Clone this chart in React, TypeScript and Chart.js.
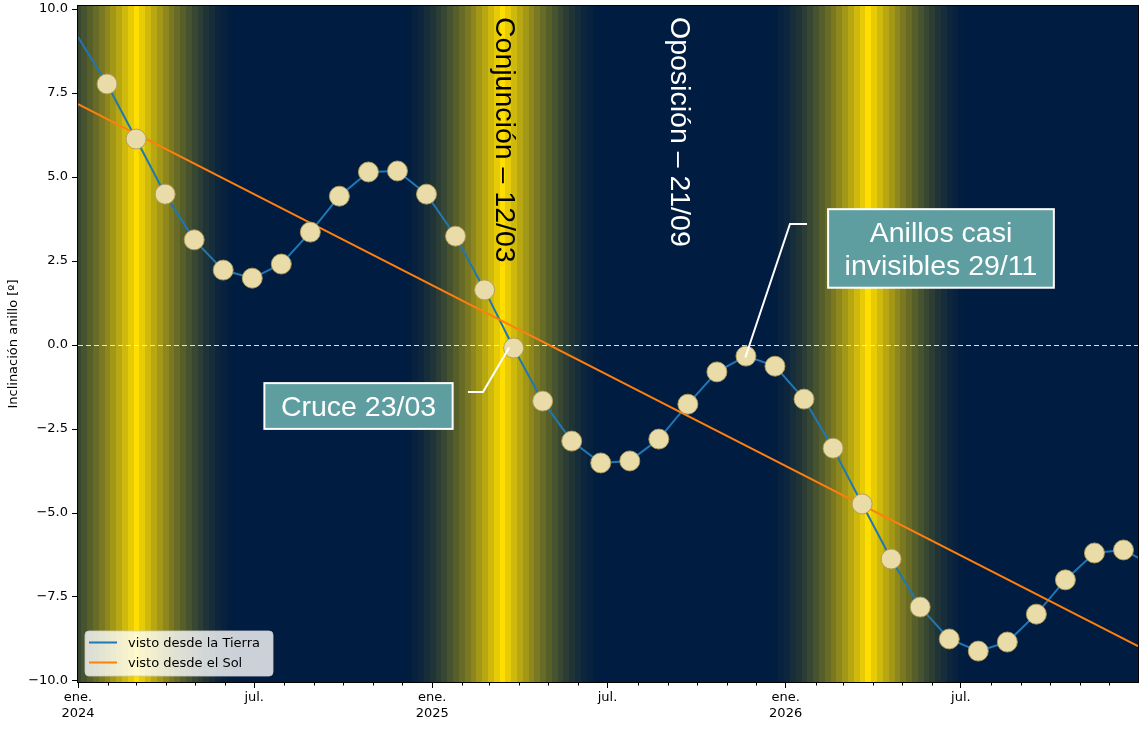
import React, { useEffect, useRef } from "react";
import { Chart, registerables } from "chart.js";

Chart.register(...registerables);

// ---------------- data ----------------
const earthDays = [0, 30, 60, 90, 120, 150, 180, 210, 240, 270, 300, 330, 360, 390, 420, 450, 480, 510, 540, 570, 600, 630, 660, 690, 720, 750, 780, 810, 840, 870, 900, 930, 960, 990, 1020, 1050, 1080, 1110];
const earthTilt = [9.17, 7.77, 6.13, 4.49, 3.13, 2.23, 1.99, 2.41, 3.36, 4.43, 5.15, 5.18, 4.49, 3.24, 1.64, -0.09, -1.67, -2.86, -3.51, -3.45, -2.8, -1.76, -0.8, -0.33, -0.63, -1.61, -3.07, -4.73, -6.37, -7.8, -8.75, -9.11, -8.84, -8.01, -6.99, -6.19, -6.1, -6.55];
const sunDays = [0, 1095];
const sunTilt = [7.17, -8.96];
const seriesLabels = ["visto desde la Tierra", "visto desde el Sol"];

const conjunctionDates = ["2024-02-28", "2025-03-12", "2026-03-25"];
const eventTexts = ["Conjunción – 12/03", "Oposición – 21/09"];
const eventDates = ["2025-03-12", "2025-09-21"];
const calloutTexts = [["Cruce 23/03"], ["Anillos casi", "invisibles 29/11"]];
const calloutDates = ["2025-03-23", "2025-11-20"];
const calloutValues = [0, -0.4];

const yTicks = [-10, -7.5, -5, -2.5, 0, 2.5, 5, 7.5, 10];
const xMajorDates = ["2024-01-01", "2024-07-01", "2025-01-01", "2025-07-01", "2026-01-01", "2026-07-01"];
const xMajorLabels = [["ene.", "2024"], ["jul."], ["ene.", "2025"], ["jul."], ["ene.", "2026"], ["jul."]];
const yTitle = "Inclinación anillo [º]";

// ---------------- helpers / styles ----------------
const START = Date.UTC(2024, 0, 1);
const DAY = 86400000;
const dayOf = (iso: string) => (Date.parse(iso + "T00:00:00Z") - START) / DAY;
const monthTicks: number[] = [];
for (let yy = 2024; yy <= 2026; yy++) for (let m = 0; m < 12; m++) monthTicks.push((Date.UTC(yy, m, 1) - START) / DAY);
const majorDays = xMajorDates.map(dayOf);

const X_MIN = 0, X_MAX = 1095, Y_MIN = -10.03, Y_MAX = 10.09;
const NAVY = [0, 28, 64];
const GOLD = [255, 222, 0];
const STRIPE = 6;
const HALF = 102;
const BAND_SHIFT = 2.5;
const AXIS_FONT = '"DejaVu Sans"';
const ANN_FONT = '"Liberation Sans", Arial, sans-serif';
const ANN_SIZE = 28.5;
const BLUE = "#1f77b4";
const ORANGE = "#ff7f0e";

const eventStyles = [
  { dx: -3.6, y: 17, color: "#000" },
  { dx: -15.4, y: 17, color: "#fff" },
];
const calloutStyles = [
  { dx: -152.2, dy: 61, elbow: [[-42.7, 47], [-27.7, 47]], shrink: 3 },
  { dx: 196, dy: -110, elbow: [[62, -134.4], [45, -134.4]], shrink: 1 },
];

const mix = (t: number) =>
  `rgb(${Math.round(NAVY[0] + (GOLD[0] - NAVY[0]) * t)},${Math.round(NAVY[1] + (GOLD[1] - NAVY[1]) * t)},${Math.round(NAVY[2] + (GOLD[2] - NAVY[2]) * t)})`;

const fmtY = (v: number) => (v < 0 ? "\u2212" : "") + Math.abs(v).toFixed(1);

const decorPlugin = {
  id: "decor",
  beforeDatasetsDraw(chart: any) {
    const { ctx, chartArea: a, scales } = chart;
    const x = scales.x, y = scales.y;
    ctx.save();
    ctx.beginPath();
    ctx.rect(a.left, a.top, a.right - a.left, a.bottom - a.top);
    ctx.clip();
    ctx.fillStyle = mix(0);
    ctx.fillRect(a.left, a.top, a.right - a.left, a.bottom - a.top);
    conjunctionDates.map(dayOf).forEach((c) => {
      const n = Math.ceil(HALF / STRIPE);
      for (let k = -n; k <= n; k++) {
        const d = k * STRIPE;
        const t = Math.pow(Math.max(0, 1 - Math.abs(d) / HALF), 1.7);
        if (t <= 0) continue;
        const x0 = Math.round(x.getPixelForValue(c + BAND_SHIFT + d - STRIPE / 2));
        const x1 = Math.round(x.getPixelForValue(c + BAND_SHIFT + d + STRIPE / 2));
        ctx.fillStyle = mix(t);
        ctx.fillRect(x0, a.top, x1 - x0, a.bottom - a.top);
      }
    });
    // zero line
    const y0 = Math.round(y.getPixelForValue(0)) + 0.5;
    ctx.strokeStyle = "rgba(235,235,235,0.95)";
    ctx.lineWidth = 1;
    ctx.setLineDash([5, 3]);
    ctx.beginPath();
    ctx.moveTo(a.left, y0);
    ctx.lineTo(a.right, y0);
    ctx.stroke();
    ctx.setLineDash([]);
    // rotated event labels
    ctx.font = `${ANN_SIZE}px ${ANN_FONT}`;
    ctx.textAlign = "left";
    ctx.textBaseline = "alphabetic";
    eventTexts.forEach((txt, i) => {
      const st = eventStyles[i];
      const px = x.getPixelForValue(dayOf(eventDates[i])) + st.dx;
      ctx.save();
      ctx.translate(px, st.y);
      ctx.rotate(Math.PI / 2);
      ctx.fillStyle = st.color;
      ctx.fillText(txt, 0, 0);
      ctx.restore();
    });
    ctx.restore();
  },
  afterDatasetsDraw(chart: any) {
    const { ctx, scales } = chart;
    const x = scales.x, y = scales.y;
    ctx.save();
    const capH = ANN_SIZE * 0.716;
    const lineH = ANN_SIZE * 1.15;
    ctx.font = `${ANN_SIZE}px ${ANN_FONT}`;
    calloutTexts.forEach((lines, i) => {
      const st = calloutStyles[i];
      const ax = x.getPixelForValue(dayOf(calloutDates[i]));
      const ay = y.getPixelForValue(calloutValues[i]);
      const p0 = [ax + st.elbow[0][0], ay + st.elbow[0][1]];
      const p1 = [ax + st.elbow[1][0], ay + st.elbow[1][1]];
      const vx = ax - p1[0], vy = ay - p1[1];
      const len = Math.hypot(vx, vy);
      const end = [ax - (vx / len) * st.shrink, ay - (vy / len) * st.shrink];
      ctx.strokeStyle = "#fff";
      ctx.lineWidth = 2;
      ctx.beginPath();
      ctx.moveTo(p0[0], p0[1]);
      ctx.lineTo(p1[0], p1[1]);
      ctx.lineTo(end[0], end[1]);
      ctx.stroke();
      const cx = ax + st.dx, cy = ay + st.dy;
      const w = Math.max(...lines.map((l) => ctx.measureText(l).width)) + 2 * 16.5;
      const h = lines.length * lineH + 2 * 6.5;
      ctx.fillStyle = "#5F9EA0";
      ctx.fillRect(cx - w / 2, cy - h / 2, w, h);
      ctx.strokeStyle = "#fff";
      ctx.lineWidth = 2;
      ctx.strokeRect(cx - w / 2, cy - h / 2, w, h);
      ctx.fillStyle = "#fff";
      ctx.textAlign = "center";
      ctx.textBaseline = "alphabetic";
      lines.forEach((l, j) => {
        const by = cy + capH / 2 + (j - (lines.length - 1) / 2) * lineH;
        ctx.fillText(l, cx, by);
      });
    });
    ctx.restore();
  },
  afterDraw(chart: any) {
    const { ctx, chartArea: a, scales } = chart;
    const x = scales.x;
    ctx.save();
    ctx.strokeStyle = "#000";
    ctx.lineWidth = 1;
    ctx.strokeRect(Math.round(a.left) - 0.5, Math.round(a.top) - 0.5, Math.round(a.right - a.left) + 1, Math.round(a.bottom - a.top) + 1);
    ctx.beginPath();
    monthTicks.forEach((d) => {
      if (majorDays.includes(d)) return;
      const px = Math.round(x.getPixelForValue(d)) + 0.5;
      ctx.moveTo(px, a.bottom);
      ctx.lineTo(px, a.bottom + 3.5);
    });
    ctx.stroke();
    // y title
    ctx.fillStyle = "#000";
    ctx.font = `13px ${AXIS_FONT}`;
    ctx.textAlign = "center";
    ctx.textBaseline = "alphabetic";
    ctx.save();
    ctx.translate(17, (a.top + a.bottom) / 2);
    ctx.rotate(-Math.PI / 2);
    ctx.fillText(yTitle, 0, 0);
    ctx.restore();
    // legend
    const lx = 85, ly = 631, lw = 188, lh = 45, r = 4;
    ctx.beginPath();
    ctx.moveTo(lx + r, ly);
    ctx.arcTo(lx + lw, ly, lx + lw, ly + lh, r);
    ctx.arcTo(lx + lw, ly + lh, lx, ly + lh, r);
    ctx.arcTo(lx, ly + lh, lx, ly, r);
    ctx.arcTo(lx, ly, lx + lw, ly, r);
    ctx.closePath();
    ctx.fillStyle = "rgba(255,255,255,0.8)";
    ctx.fill();
    ctx.strokeStyle = "rgba(204,204,204,0.8)";
    ctx.lineWidth = 1;
    ctx.stroke();
    ctx.font = `13px ${AXIS_FONT}`;
    ctx.textAlign = "left";
    ctx.textBaseline = "middle";
    seriesLabels.forEach((label, i) => {
      const ds = chart.data.datasets.find((d: any) => d.label === label);
      const yy = ly + 11.5 + i * 20;
      ctx.strokeStyle = ds ? ds.borderColor : "#000";
      ctx.lineWidth = 2;
      ctx.beginPath();
      ctx.moveTo(89, yy);
      ctx.lineTo(117, yy);
      ctx.stroke();
      ctx.fillStyle = "#000";
      ctx.fillText(label, 128, yy + 1);
    });
    ctx.restore();
  },
};

export default function App() {
  const ref = useRef<HTMLCanvasElement>(null);
  useEffect(() => {
    const earthPts = earthDays.map((d, i) => ({ x: d, y: earthTilt[i] }));
    const sunPts = sunDays.map((d, i) => ({ x: d, y: sunTilt[i] }));
    const chart = new Chart(ref.current as HTMLCanvasElement, {
      type: "line",
      data: {
        datasets: [
          {
            label: "",
            data: earthPts,
            showLine: false,
            pointRadius: (c: any) => {
              const v = c.raw && c.raw.x;
              return v > X_MIN && v < X_MAX ? 10 : 0;
            },
            pointBackgroundColor: "#EADCA8",
            pointBorderColor: "rgba(175,155,90,0.9)",
            pointBorderWidth: 1,
            order: 0,
          },
          {
            label: seriesLabels[1],
            data: sunPts,
            borderColor: ORANGE,
            backgroundColor: ORANGE,
            borderWidth: 2,
            pointRadius: 0,
            order: 1,
          },
          {
            label: seriesLabels[0],
            data: earthPts,
            borderColor: BLUE,
            backgroundColor: BLUE,
            borderWidth: 2,
            pointRadius: 0,
            order: 2,
          },
        ],
      } as any,
      options: {
        responsive: false,
        animation: false,
        events: [],
        layout: { padding: { top: 6, right: 6, left: 0, bottom: 0 } },
        plugins: { legend: { display: false }, tooltip: { enabled: false } },
        scales: {
          x: {
            type: "linear",
            min: X_MIN,
            max: X_MAX,
            afterBuildTicks: (s: any) => {
              s.ticks = monthTicks.map((v) => ({ value: v }));
            },
            afterFit: (s: any) => {
              s.height = 47;
              s.paddingLeft = 0;
              s.paddingRight = 0;
              s.paddingTop = 0;
              s.paddingBottom = 0;
            },
            border: { display: false },
            grid: {
              display: true,
              drawOnChartArea: false,
              drawTicks: true,
              tickLength: 6,
              lineWidth: 1,
              color: (c: any) => (c.tick && majorDays.includes(c.tick.value) ? "#000" : "rgba(0,0,0,0)"),
            },
            ticks: {
              autoSkip: false,
              maxRotation: 0,
              minRotation: 0,
              padding: 1.5,
              color: "#000",
              font: { family: "DejaVu Sans", size: 13, lineHeight: 1.23 },
              callback: (v: any) => {
                const i = majorDays.indexOf(Number(v));
                return i >= 0 ? xMajorLabels[i] : "";
              },
            },
          },
          y: {
            type: "linear",
            min: Y_MIN,
            max: Y_MAX,
            afterBuildTicks: (s: any) => {
              s.ticks = yTicks.map((v) => ({ value: v }));
            },
            afterFit: (s: any) => {
              s.width = 78;
              s.paddingLeft = 0;
              s.paddingRight = 0;
              s.paddingTop = 0;
              s.paddingBottom = 0;
            },
            border: { display: false },
            grid: {
              display: true,
              drawOnChartArea: false,
              drawTicks: true,
              tickLength: 6,
              lineWidth: 1,
              color: "#000",
            },
            ticks: {
              padding: 4,
              color: "#000",
              font: { family: "DejaVu Sans", size: 13, lineHeight: 0.8 },
              callback: (v: any) => fmtY(Number(v)),
            },
          },
        },
      },
      plugins: [decorPlugin],
    } as any);
    return () => chart.destroy();
  }, []);
  return (
    <div style={{ position: "fixed", left: 0, top: 0, width: 1144, height: 729, background: "#fff" }}>
      <canvas ref={ref} width={1144} height={729} style={{ width: 1144, height: 729, display: "block" }} />
    </div>
  );
}
